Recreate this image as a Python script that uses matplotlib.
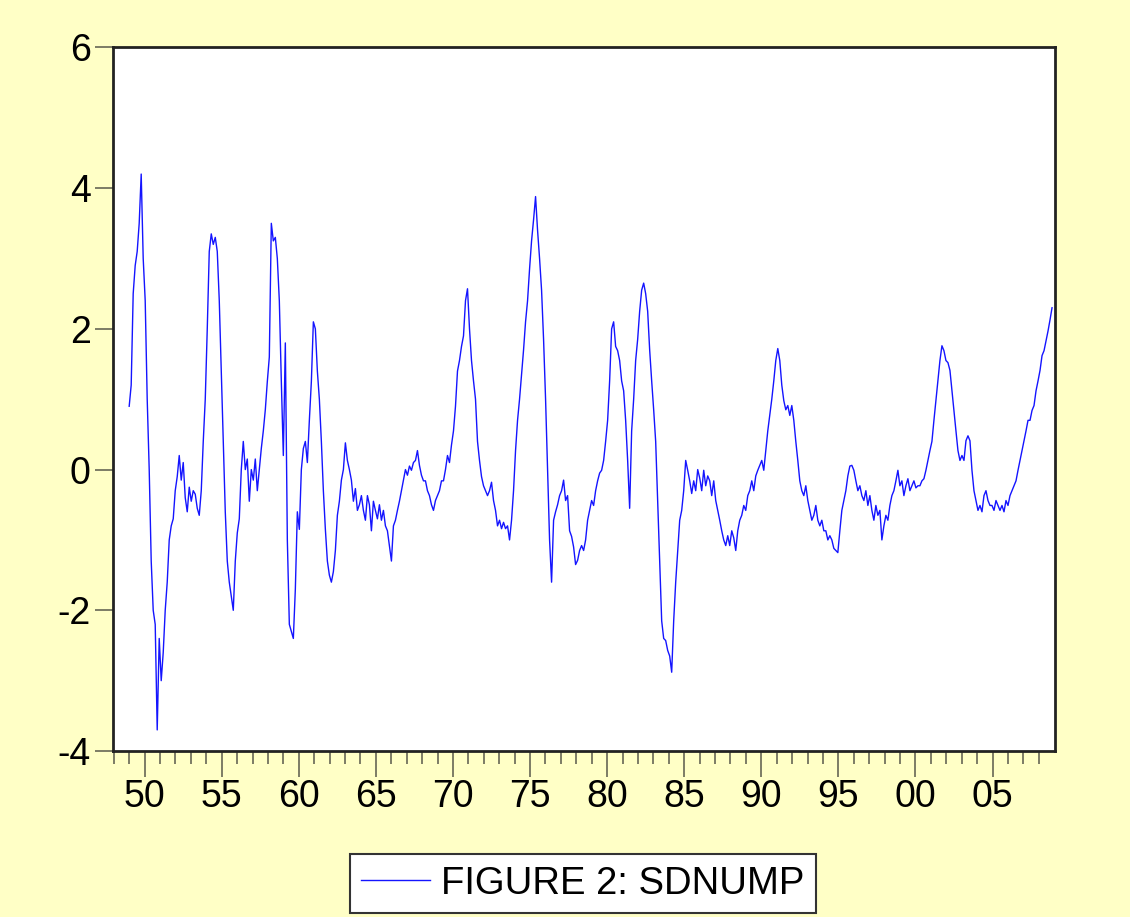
import numpy as np
import pandas as pd
import matplotlib
matplotlib.use("Agg")
import matplotlib.pyplot as plt
from matplotlib.ticker import FixedLocator, FixedFormatter

plt.rcParams['font.family'] = ['Liberation Sans', 'DejaVu Sans']

# values of SDNUMP, roughly every 1.5 months, 1949 -> late 2008
sdnump = [
    0.9, 1.2, 2.5, 2.9, 3.1, 3.5, 4.2, 3.0, 2.4, 1.0, 0.0, -1.3, -2.0, -2.2, -3.7, -2.4,
    -3.0, -2.6, -2.0, -1.6, -1.0, -0.8, -0.7, -0.3, -0.1, 0.2, -0.15, 0.1, -0.4, -0.6,
    -0.25, -0.45, -0.3, -0.35, -0.55, -0.65, -0.3, 0.4, 1.0, 2.0, 3.1, 3.35, 3.2, 3.3,
    3.1, 2.4, 1.4, 0.4, -0.6, -1.3, -1.6, -1.8, -2.0, -1.3, -0.9, -0.7, 0.0, 0.4, 0.0,
    0.15, -0.45, 0.0, -0.15, 0.15, -0.3, 0.0, 0.3, 0.55, 0.85, 1.25, 1.6, 3.5, 3.25,
    3.3, 3.0, 2.4, 1.25, 0.2, 1.8, -1.0, -2.2, -2.3, -2.4, -1.7, -0.6, -0.85, 0.0, 0.3,
    0.4, 0.1, 0.7, 1.25, 2.1, 2.0, 1.4, 1.0, 0.4, -0.3, -0.85, -1.3, -1.5, -1.6, -1.45,
    -1.15, -0.65, -0.45, -0.15, 0.0, 0.38, 0.13, 0.0, -0.15, -0.45, -0.27, -0.58, -0.5,
    -0.37, -0.58, -0.72, -0.37, -0.5, -0.87, -0.45, -0.58, -0.7, -0.5, -0.72, -0.58,
    -0.8, -0.87, -1.08, -1.3, -0.8, -0.72, -0.58, -0.45, -0.3, -0.15, 0.0, -0.08, 0.05,
    -0.01, 0.1, 0.13, 0.27, 0.06, -0.08, -0.16, -0.16, -0.3, -0.37, -0.5, -0.58, -0.44,
    -0.37, -0.3, -0.16, -0.16, 0.0, 0.2, 0.1, 0.35, 0.55, 0.9, 1.4, 1.55, 1.75, 1.9,
    2.4, 2.57, 2.0, 1.55, 1.26, 1.0, 0.4, 0.13, -0.1, -0.23, -0.3, -0.37, -0.3, -0.18,
    -0.44, -0.58, -0.8, -0.72, -0.84, -0.75, -0.84, -0.8, -1.0, -0.72, -0.3, 0.27, 0.7,
    1.0, 1.35, 1.7, 2.1, 2.4, 2.85, 3.25, 3.55, 3.88, 3.4, 3.0, 2.55, 1.85, 1.0, 0.0,
    -1.0, -1.6, -0.72, -0.6, -0.5, -0.37, -0.3, -0.15, -0.44, -0.37, -0.87, -0.95, -1.1,
    -1.35, -1.29, -1.15, -1.08, -1.15, -1.0, -0.72, -0.58, -0.44, -0.51, -0.3, -0.16,
    -0.05, -0.01, 0.13, 0.4, 0.7, 1.26, 2.0, 2.1, 1.75, 1.69, 1.55, 1.26, 1.12, 0.7,
    0.13, -0.55, 0.55, 1.0, 1.55, 1.85, 2.25, 2.55, 2.65, 2.5, 2.25, 1.7, 1.26, 0.85,
    0.4, -0.45, -1.3, -2.15, -2.4, -2.43, -2.57, -2.65, -2.88, -2.15, -1.6, -1.15, -0.72,
    -0.58, -0.3, 0.13, -0.01, -0.16, -0.34, -0.16, -0.3, 0.0, -0.12, -0.3, -0.01, -0.23,
    -0.09, -0.16, -0.37, -0.16, -0.44, -0.58, -0.72, -0.87, -1.0, -1.08, -0.94, -1.08,
    -0.87, -0.97, -1.15, -0.87, -0.72, -0.65, -0.51, -0.58, -0.37, -0.3, -0.16, -0.3,
    -0.09, -0.01, 0.06, 0.13, -0.01, 0.27, 0.55, 0.77, 1.0, 1.26, 1.55, 1.72, 1.55, 1.2,
    0.98, 0.85, 0.91, 0.77, 0.91, 0.7, 0.4, 0.13, -0.16, -0.3, -0.37, -0.23, -0.44,
    -0.58, -0.72, -0.65, -0.51, -0.72, -0.8, -0.72, -0.87, -0.87, -1.0, -0.94, -1.0,
    -1.12, -1.15, -1.18, -0.87, -0.58, -0.44, -0.3, -0.09, 0.05, 0.06, -0.01, -0.16,
    -0.3, -0.23, -0.37, -0.44, -0.3, -0.51, -0.37, -0.58, -0.72, -0.51, -0.65, -0.58,
    -1.0, -0.8, -0.65, -0.72, -0.51, -0.37, -0.3, -0.16, -0.01, -0.23, -0.16, -0.37,
    -0.23, -0.13, -0.3, -0.23, -0.16, -0.26, -0.23, -0.23, -0.16, -0.13, -0.01, 0.13,
    0.27, 0.4, 0.7, 0.98, 1.26, 1.55, 1.76, 1.69, 1.55, 1.52, 1.41, 1.12, 0.84, 0.55,
    0.27, 0.13, 0.2, 0.13, 0.41, 0.48, 0.41, -0.01, -0.3, -0.44, -0.58, -0.51, -0.6,
    -0.37, -0.3, -0.44, -0.51, -0.51, -0.58, -0.44, -0.51, -0.58, -0.51, -0.6, -0.44,
    -0.51, -0.37, -0.3, -0.23, -0.16, -0.01, 0.13, 0.27, 0.41, 0.55, 0.7, 0.7, 0.84,
    0.91, 1.12, 1.26, 1.41, 1.62, 1.69, 1.83, 1.97, 2.13, 2.3,
]

first_year = 1949.0
last_year = 2008.86
years = np.linspace(first_year, last_year, len(sdnump))

major_years = [1950, 1955, 1960, 1965, 1970, 1975, 1980, 1985, 1990, 1995, 2000, 2005]
major_labels = ["50", "55", "60", "65", "70", "75", "80", "85", "90", "95", "00", "05"]
minor_years = list(range(1948, 2009))
y_ticks = [-4, -2, 0, 2, 4, 6]

bg = '#FFFFC6'
fig = plt.figure(figsize=(11.3, 9.17), dpi=100, facecolor=bg)
ax = fig.add_axes([0.1, 0.181, 0.8336, 0.7673])
ax.set_facecolor('white')

ax.plot(years, sdnump, color='#1414FF', lw=1.0, label='FIGURE 2: SDNUMP')

ax.set_xlim(1947.95, 2009.05)
ax.set_ylim(-4, 6)
ax.xaxis.set_major_locator(FixedLocator(major_years))
ax.xaxis.set_major_formatter(FixedFormatter(major_labels))
ax.xaxis.set_minor_locator(FixedLocator(minor_years))
ax.set_yticks(y_ticks)
ax.set_yticklabels([str(v) for v in y_ticks])

ax.tick_params(axis='x', which='major', length=19, width=1.2, color='#666655',
               labelsize=27, pad=1, direction='out')
ax.tick_params(axis='x', which='minor', length=9, width=1.2, color='#666655', direction='out')
ax.tick_params(axis='y', which='major', length=13, width=1.2, color='#666655',
               labelsize=27, pad=3, direction='out')

for s in ax.spines.values():
    s.set_linewidth(2)
    s.set_color('#222222')

leg = fig.legend(loc='center', bbox_to_anchor=(0.516, 0.0365), fontsize=27.5,
                 frameon=True, fancybox=False, handlelength=1.8, handletextpad=0.3,
                 borderpad=0.3, borderaxespad=0)
leg.get_frame().set_edgecolor('#333333')
leg.get_frame().set_linewidth(1.5)
leg.get_frame().set_facecolor('white')
leg.get_frame().set_alpha(1)

fig.savefig('out.png', dpi=100, facecolor=bg)
